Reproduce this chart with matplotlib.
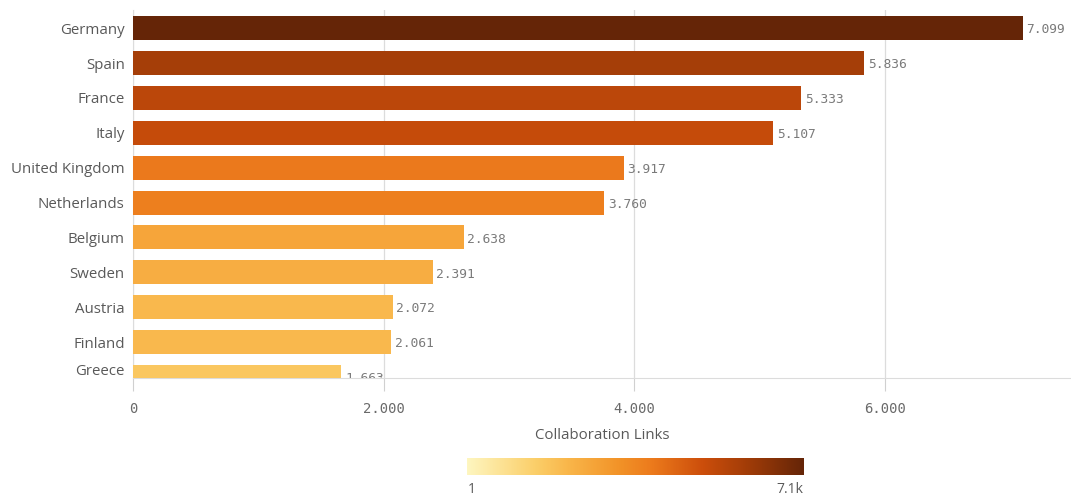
import numpy as np
import matplotlib
matplotlib.use("Agg")
import matplotlib.pyplot as plt
from matplotlib.colors import LinearSegmentedColormap, Normalize

countries = ["Germany", "Spain", "France", "Italy", "United Kingdom", "Netherlands",
             "Belgium", "Sweden", "Austria", "Finland", "Greece"]
links = [7099, 5836, 5333, 5107, 3917, 3760, 2638, 2391, 2072, 2061, 1663]
xticks = [0, 2000, 4000, 6000]
color_min, color_max = 1, 7099

cmap = LinearSegmentedColormap.from_list("qlik_orange", [
    (0.00, "#fef6c0"), (0.20, "#fbcf6a"), (0.30, "#f9b64a"), (0.45, "#f29328"),
    (0.55, "#ec7a1c"), (0.70, "#cc4e0b"), (0.82, "#a63e08"), (1.00, "#652507")])
norm = Normalize(color_min, color_max)

def fmt(v):
    return f"{v:,}".replace(",", ".")

label_font = "Open Sans"
num_font = "DejaVu Sans Mono"
grey = "#595959"

fig = plt.figure(figsize=(10.71, 4.97), dpi=100)
ax = fig.add_axes([0.1242, 0.2394, 0.8758, 0.7404])

y = np.arange(len(countries))
ax.barh(y, links, height=0.69, color=cmap(norm(np.array(links))), zorder=3)
for yi, v in zip(y, links):
    ax.text(v + 30, yi + 0.05, fmt(v), va="center", ha="left", fontsize=9.3,
            family=num_font, color="#7a7a7a", clip_on=True, zorder=4)

ax.set_ylim(10.03, -0.52)
ax.set_xlim(0, 7486)

ax.set_yticks(np.minimum(y, 9.8))
ax.set_yticklabels(countries, family=label_font, fontsize=10.8, color=grey)
ax.tick_params(axis="y", length=0, pad=6)

ax.set_xticks(xticks)
ax.set_xticklabels([fmt(t) for t in xticks], family=num_font, fontsize=10, color="#6a6a6a")
ax.tick_params(axis="x", length=9, color="#d0d0d0", pad=8)
ax.grid(axis="x", color="#dcdcdc", lw=0.9, zorder=0)
ax.set_xlabel("Collaboration Links", family=label_font, fontsize=10.8, color=grey, labelpad=9)

for s in ["top", "right"]:
    ax.spines[s].set_visible(False)
ax.spines["left"].set_color("#dcdcdc")
ax.spines["bottom"].set_color("#dcdcdc")

# colour legend
cax = fig.add_axes([0.436, 0.044, 0.314, 0.034])
grad = np.linspace(0, 1, 256).reshape(1, -1)
cax.imshow(grad, aspect="auto", cmap=cmap, extent=[0, 1, 0, 1])
cax.set_axis_off()
fig.text(0.437, 0.008, fmt(color_min), family=label_font, fontsize=10, color=grey, ha="left")
fig.text(0.750, 0.008, "7.1k", family=label_font, fontsize=10, color=grey, ha="right")

fig.savefig("out.png", dpi=100)
